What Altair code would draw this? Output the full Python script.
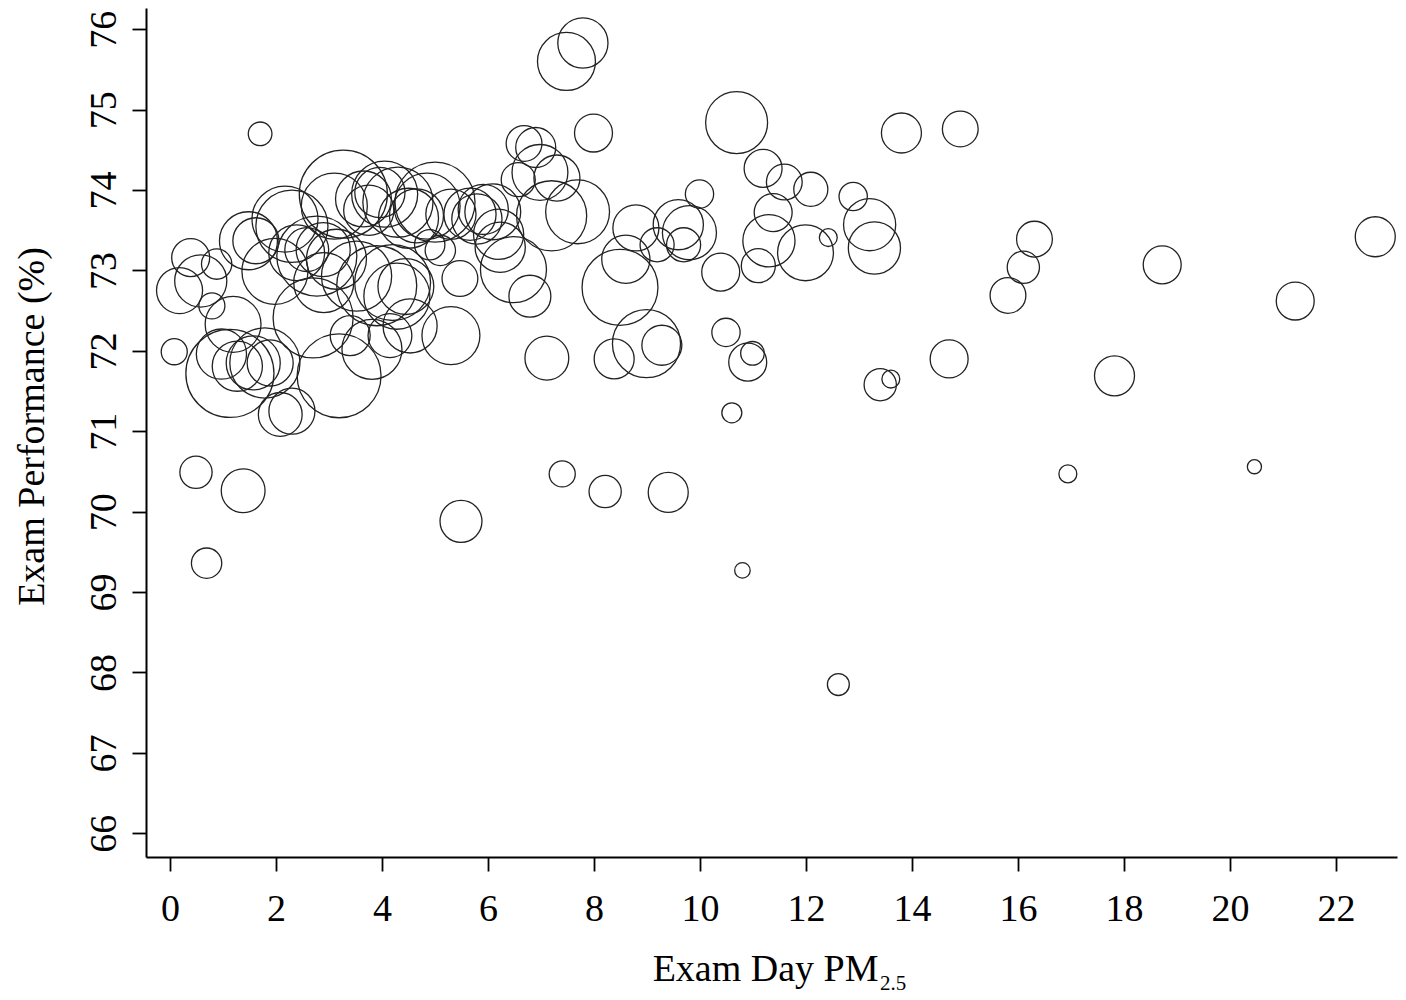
import altair as alt
import pandas as pd

# Exam-day PM2.5 (x), exam performance in % (y), and weight (bubble area)
pm25 = [0.08, 0.18, 0.39, 0.58, 0.79, 0.88, 0.49, 0.69, 1.38, 1.70,
        1.19, 0.97, 1.13, 1.27, 1.57, 1.89, 1.79, 1.48, 1.62, 2.17,
        2.30, 1.98, 2.39, 2.58, 2.77, 2.89, 2.90, 3.27, 3.10, 3.65,
        3.96, 2.70, 3.19, 3.40, 3.81, 4.15, 3.90, 3.52, 3.14, 2.08,
        2.30, 3.75, 4.05, 4.30, 4.65, 4.50, 4.85, 5.00, 5.30, 4.90,
        5.10, 5.47, 5.30, 4.28, 4.53, 4.20, 4.45, 5.66, 5.79, 5.91,
        6.09, 6.20, 6.23, 6.48, 6.79, 7.11, 5.49, 6.68, 6.90, 6.98,
        6.57, 7.30, 7.20, 7.69, 7.40, 7.48, 7.79, 7.99, 8.21, 8.38,
        8.49, 8.60, 8.79, 8.99, 9.19, 9.28, 9.40, 9.59, 9.69, 9.80,
        9.99, 10.39, 10.49, 10.60, 10.69, 10.80, 10.90, 10.99, 11.10, 11.19,
        11.38, 11.30, 11.59, 11.99, 12.09, 12.42, 12.61, 12.89, 13.20, 13.29,
        13.40, 13.60, 13.80, 14.70, 14.91, 15.81, 16.10, 16.31, 16.94, 17.82,
        18.72, 20.46, 21.23, 22.74]

performance = [71.99, 72.75, 73.16, 72.87, 72.56, 73.08, 70.49, 69.36, 70.26, 74.70,
               72.33, 71.96, 71.72, 71.81, 71.85, 71.85, 71.85, 73.37, 73.37, 73.64,
               73.55, 72.99, 73.22, 73.26, 73.18, 73.26, 72.85, 73.95, 73.80, 73.89,
               73.97, 72.41, 71.69, 72.19, 72.02, 72.19, 72.81, 72.93, 73.14, 71.21,
               71.25, 73.75, 73.95, 73.85, 73.68, 73.65, 73.80, 73.85, 73.70, 73.32,
               73.25, 72.90, 72.19, 72.68, 72.31, 72.85, 72.80, 73.70, 73.64, 73.76,
               73.73, 73.45, 73.29, 73.01, 72.68, 71.91, 69.88, 74.58, 74.53, 74.22,
               74.13, 74.15, 73.68, 73.73, 70.47, 75.60, 75.83, 74.71, 70.25, 71.90,
               72.79, 73.14, 73.53, 72.09, 73.32, 72.07, 70.24, 73.57, 73.32, 73.47,
               73.95, 72.98, 72.23, 71.23, 74.84, 69.27, 71.86, 71.97, 73.06, 74.27,
               73.72, 73.37, 74.10, 73.22, 74.01, 73.41, 67.85, 73.92, 73.57, 73.28,
               71.58, 71.65, 74.71, 71.90, 74.76, 72.69, 73.04, 73.39, 70.47, 71.69,
               73.07, 70.56, 72.62, 73.42]

weight = [17, 53, 36, 68, 17, 23, 26, 23, 48, 14,
          78, 63, 194, 63, 73, 53, 123, 84, 53, 109,
          130, 109, 78, 48, 160, 73, 90, 194, 109, 78,
          63, 160, 176, 40, 90, 48, 160, 123, 90, 48,
          53, 63, 109, 123, 73, 90, 109, 160, 63, 23,
          23, 32, 84, 109, 73, 144, 78, 68, 63, 63,
          78, 63, 63, 109, 44, 48, 44, 32, 40, 78,
          29, 53, 123, 102, 17, 84, 63, 36, 26, 40,
          144, 58, 53, 116, 29, 40, 40, 63, 29, 73,
          20, 36, 20, 10, 96, 6, 36, 14, 29, 36,
          36, 68, 32, 78, 29, 8, 12, 20, 68, 68,
          26, 8, 40, 36, 32, 32, 26, 32, 8, 40,
          36, 5, 36, 40]

x_ticks = [0, 2, 4, 6, 8, 10, 12, 14, 16, 18, 20, 22]
y_ticks = [66, 67, 68, 69, 70, 71, 72, 73, 74, 75, 76]

df = pd.DataFrame({"pm25": pm25, "perf": performance, "weight": weight})

FONT = "Liberation Serif"
W, H = 1251, 849

points = alt.Chart(df).mark_point(
    shape="circle", filled=False, color="#222222", strokeWidth=1.3, opacity=1
).encode(
    x=alt.X(
        "pm25:Q",
        scale=alt.Scale(domain=[-0.453, 23.15], nice=False, zero=False),
        axis=alt.Axis(
            values=x_ticks, title="Exam Day PM", grid=False,
            domainColor="black", domainWidth=2, tickColor="black", tickWidth=1.8,
            tickSize=14, labelFont=FONT, labelFontSize=38, labelColor="black",
            labelPadding=19, labelBaseline="top", labelFlush=False, labelOverlap=False,
            titleFont=FONT, titleFontSize=38, titleFontWeight="normal", titleColor="black",
            titleAlign="right", titleBaseline="alphabetic", titleX=732, titleY=123,
        ),
    ),
    y=alt.Y(
        "perf:Q",
        scale=alt.Scale(domain=[65.705, 76.265], nice=False, zero=False),
        axis=alt.Axis(
            values=y_ticks, title="Exam Performance (%)", grid=False,
            domainColor="black", domainWidth=2, tickColor="black", tickWidth=1.8,
            tickSize=14, labelFont=FONT, labelFontSize=38, labelColor="black",
            labelAngle=270, labelAlign="center", labelBaseline="alphabetic",
            labelPadding=17, labelFlush=False, labelOverlap=False,
            titleFont=FONT, titleFontSize=38, titleFontWeight="normal", titleColor="black",
            titleAngle=270, titleAlign="center", titleBaseline="alphabetic",
            titleX=-103, titleY=418,
        ),
    ),
    size=alt.Size(
        "weight:Q",
        scale=alt.Scale(type="linear", domain=[0, 200], range=[0, 8000], zero=True),
        legend=None,
    ),
)

subscript = alt.Chart(pd.DataFrame({"t": ["2.5"]})).mark_text(
    font=FONT, fontSize=21, align="left", baseline="alphabetic", color="black"
).encode(
    x=alt.value(734), y=alt.value(982), text="t:N"
)

chart = alt.layer(points, subscript).properties(
    width=W, height=H,
    background="white",
    autosize=alt.AutoSizeParams(type="none"),
    padding={"left": 138, "top": 0, "right": 1, "bottom": 150},
).configure_view(strokeOpacity=0, strokeWidth=0)

chart.save("out.html", embed_options={"renderer": "svg", "actions": False})
